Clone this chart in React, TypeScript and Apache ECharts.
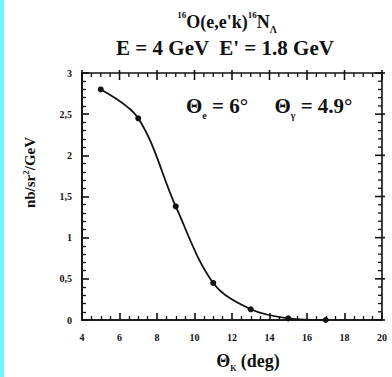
import React, { useEffect, useRef } from "react";
import * as echarts from "echarts";

const thetaK = [5, 7, 9, 11, 13, 15, 17];
const crossSection = [2.8, 2.45, 1.38, 0.45, 0.13, 0.02, 0.0];
const xTicks = { min: 4, max: 20, step: 2, minorSplit: 4 };
const yTicks = { min: 0, max: 3, step: 0.5, minorSplit: 5 };

const FONT = "Liberation Serif";
const INK = "#111111";

const txt = (size: number, lh: number, va?: string) => ({
  fontSize: size,
  fontFamily: FONT,
  fontWeight: "bold",
  color: INK,
  lineHeight: lh,
  ...(va ? { verticalAlign: va } : {}),
});

function axisBase(dim: "x" | "y") {
  const t = dim === "x" ? xTicks : yTicks;
  return {
    type: "value",
    min: t.min,
    max: t.max,
    interval: t.step,
    axisLine: { show: true, onZero: false, lineStyle: { color: INK, width: 1.6 } },
    axisTick: { show: true, inside: true, length: 7, lineStyle: { color: INK, width: 1.6 } },
    minorTick: { show: true, splitNumber: t.minorSplit, length: 4, lineStyle: { color: INK, width: 1.3 } },
    splitLine: { show: false },
    axisLabel: {
      color: INK,
      fontFamily: FONT,
      fontWeight: "bold",
      fontSize: 10,
      margin: dim === "x" ? 12 : 10,
      formatter: (v: number) => String(v).replace(".", ","),
    },
  };
}

function frameTicks(t: typeof xTicks, side: number) {
  const out: number[][] = [];
  const n = Math.round((t.max - t.min) / t.step);
  for (let i = 0; i <= n; i++) {
    for (let j = 0; j < t.minorSplit; j++) {
      if (i === n && j > 0) break;
      out.push([t.min + i * t.step + (j * t.step) / t.minorSplit, j === 0 ? 1 : 0, side]);
    }
  }
  return out;
}

export default function App() {
  const ref = useRef<HTMLDivElement>(null);
  useEffect(() => {
    document.body.style.margin = "0";
    const chart = echarts.init(ref.current!, undefined, { renderer: "svg" });
    chart.setOption({
      animation: false,
      backgroundColor: "#ffffff",
      title: [
        {
          text: "{sup|16}{n|O(e,e'k)}{sup|16}{n|N}{sub|Λ}",
          left: 223,
          top: 10,
          textAlign: "center",
          padding: 0,
          textStyle: {
            ...txt(18, 24),
            rich: { n: txt(18, 24), sup: txt(9, 24, "top"), sub: txt(10, 24, "bottom") },
          },
        },
        {
          text: "E = 4 GeV  E' = 1.8 GeV",
          left: 221,
          top: 35,
          textAlign: "center",
          padding: 0,
          textStyle: txt(21, 26),
        },
        {
          text: "{n|Θ}{sub|e}{n| = 6°     Θ}{sub|γ}{n| = 4.9°}",
          left: 182,
          top: 92,
          padding: 0,
          textStyle: {
            ...txt(21, 28),
            rich: { n: txt(21, 28), sub: txt(10, 28, "bottom") },
          },
        },
      ],
      grid: { left: 78, right: 10, top: 73, bottom: 52, show: true, borderColor: INK, borderWidth: 1.6, backgroundColor: "transparent" },
      xAxis: {
        ...axisBase("x"),
        name: "{n|Θ}{sub|K}{n| (deg)}",
        nameLocation: "middle",
        nameGap: 30,
        nameTextStyle: {
          ...txt(18, 22),
          padding: [0, 0, 0, 32],
          rich: { n: txt(18, 22), sub: txt(8, 22, "bottom") },
        },
      },
      yAxis: {
        ...axisBase("y"),
        name: "{n|nb/sr}{sup|2}{n|/GeV}",
        nameLocation: "middle",
        nameRotate: 90,
        nameGap: 43,
        nameTextStyle: {
          ...txt(15, 18),
          padding: [0, 0, 0, 48],
          rich: { n: txt(15, 18), sup: txt(9, 18, "top") },
        },
      },
      series: [
        {
          type: "custom",
          silent: true,
          clip: false,
          data: [...frameTicks(xTicks, 0), ...frameTicks(yTicks, 1)],
          renderItem: (params: any, api: any) => {
            const v = api.value(0);
            const major = api.value(1) === 1;
            const inLen = major ? 7 : 4;
            const outLen = major ? 3 : 0;
            const style = { stroke: INK, lineWidth: major ? 1.6 : 1.3 };
            if (api.value(2) === 0) {
              const p = api.coord([v, yTicks.max]);
              return { type: "line", shape: { x1: p[0], y1: p[1] - outLen, x2: p[0], y2: p[1] + inLen }, style };
            }
            const p = api.coord([xTicks.max, v]);
            return { type: "line", shape: { x1: p[0] + outLen, y1: p[1], x2: p[0] - inLen, y2: p[1] }, style };
          },
        },
        {
          type: "line",
          data: thetaK.map((x, i) => [x, crossSection[i]]),
          smooth: 0.35,
          symbol: "circle",
          symbolSize: 6,
          lineStyle: { color: INK, width: 1.8 },
          itemStyle: { color: INK },
        },
      ],
    });
    return () => chart.dispose();
  }, []);
  return (
    <div style={{ width: 392, height: 377, background: "#6ff6ff", display: "flex" }}>
      <div ref={ref} style={{ width: 388, height: 377, marginLeft: 4 }} />
    </div>
  );
}
